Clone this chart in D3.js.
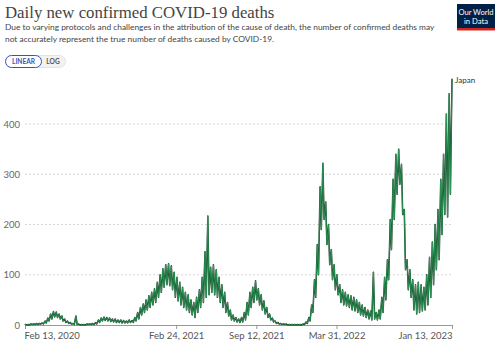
<!DOCTYPE html>
<html>
<head>
<meta charset="utf-8">
<script src="https://cdn.jsdelivr.net/npm/d3@7"></script>
<style>
  html, body { margin: 0; padding: 0; background: #fff; }
  svg { display: block; }
</style>
</head>
<body>
<svg id="chart" width="500" height="345"></svg>
<script>
// ---- Data ----
const seriesName = "Japan";
const startDate = "2020-02-13";
const endDate = "2023-01-13";
// Weekly reporting highs (one per week, starting Feb 13, 2020)
const weeklyPeak = [
  1,1,2,2,3,3,4,
  8,14,22,27,26,22,18,12,8,5,
  3,18,
  2,1,1,2,2,3,5,
  10,14,16,15,14,12,12,10,10,9,8,10,9,
  15,25,35,42,50,58,65,72,85,100,112,120,122,118,
  105,95,85,75,65,60,50,
  45,55,70,95,146,217,115,120,110,95,80,65,45,30,20,15,12,15,
  25,45,65,75,88,72,60,48,35,22,14,8,5,
  3,2,2,1,1,1,1,1,2,
  6,15,40,90,160,275,322,245,200,150,120,100,80,70,65,60,58,55,50,45,40,35,30,28,105,25,
  30,55,95,130,210,290,340,350,320,230,130,110,90,80,85,80,75,
  100,135,165,200,230,290,340,420,460,490
];
// Weekly reporting lows (mid-week)
const weeklyTrough = [
  0,0,1,1,1,2,2,
  4,8,12,16,15,12,8,5,3,2,
  1,1,
  0,0,0,1,1,1,2,
  5,8,9,8,7,6,5,5,4,4,4,5,5,
  8,12,20,25,30,35,40,45,55,65,75,80,78,70,
  55,48,40,35,30,25,20,
  15,25,35,45,55,60,65,60,55,45,35,25,18,10,8,6,5,6,
  10,20,35,45,50,40,30,22,15,10,6,3,2,
  1,1,0,0,0,0,0,0,1,
  3,8,25,55,100,190,210,160,120,90,70,60,45,40,38,35,30,28,25,20,18,15,12,10,12,10,
  12,25,50,90,150,210,260,280,220,110,70,55,30,22,25,28,30,
  40,55,80,110,130,180,220,215,260
];
const yTicks = [0, 100, 200, 300, 400];
const xTickLabels = ["2020-02-13", "2021-02-24", "2021-09-12", "2022-03-31", "2023-01-13"];

// ---- Build daily-dated points ----
const parse = d3.timeParse("%Y-%m-%d");
const t0 = parse(startDate), t1 = parse(endDate);
const points = [];
weeklyPeak.forEach((v, i) => {
  const dp = d3.timeDay.offset(t0, 7 * i + 1);
  if (dp <= t1) points.push({ date: dp, value: v });
  if (i < weeklyTrough.length) {
    const dt = d3.timeDay.offset(t0, 7 * i + 4);
    if (dt <= t1) points.push({ date: dt, value: weeklyTrough[i] });
  }
});
points.unshift({ date: t0, value: 0 });
points.sort((a, b) => a.date - b.date);

// ---- Layout ----
const svg = d3.select("#chart");
const plot = { left: 25, right: 452, top: 80, bottom: 325 };

const x = d3.scaleTime().domain([t0, t1]).range([plot.left, plot.right]);
const y = d3.scaleLinear().domain([0, 480]).range([plot.bottom, plot.bottom - 480 * 0.5025]);

// Title & subtitle
svg.append("text").attr("x", 5).attr("y", 18)
  .attr("font-family", "'Liberation Serif', 'DejaVu Serif', serif")
  .attr("font-size", 16.8).attr("fill", "#444")
  .text("Daily new confirmed COVID-19 deaths");
const sub = ["Due to varying protocols and challenges in the attribution of the cause of death, the number of confirmed deaths may",
             "not accurately represent the true number of deaths caused by COVID-19."];
sub.forEach((s, i) => {
  svg.append("text").attr("x", 5).attr("y", 30 + i * 11.5)
    .attr("font-family", "Lato, 'Open Sans', sans-serif")
    .attr("font-size", 8.4).attr("fill", "#444")
    .text(s);
});

// Logo
const logo = svg.append("g").attr("transform", "translate(457,4)");
logo.append("rect").attr("width", 38).attr("height", 26).attr("fill", "#002147");
logo.append("rect").attr("y", 24).attr("width", 38).attr("height", 2.5).attr("fill", "#ce261e");
["Our World", "in Data"].forEach((s, i) => {
  logo.append("text").attr("x", 19).attr("y", 11 + i * 9)
    .attr("text-anchor", "middle").attr("font-family", "Lato, sans-serif")
    .attr("font-size", 7.6).attr("fill", "#fff").text(s);
});

// LINEAR / LOG toggle
const tog = svg.append("g").attr("transform", "translate(5,55)");
tog.append("rect").attr("x", 0.5).attr("y", 0.5).attr("width", 60).attr("height", 12)
  .attr("rx", 6).attr("fill", "#f2f2f2").attr("stroke", "#ddd").attr("stroke-width", 0.8);
tog.append("rect").attr("x", 0.5).attr("y", 0.5).attr("width", 36).attr("height", 12)
  .attr("rx", 6).attr("fill", "#fff").attr("stroke", "#3f51b5").attr("stroke-width", 1);
tog.append("text").attr("x", 18.5).attr("y", 9.3).attr("text-anchor", "middle")
  .attr("font-family", "Lato, sans-serif").attr("font-weight", "bold")
  .attr("font-size", 6.6).attr("fill", "#3f51b5").text("LINEAR");
tog.append("text").attr("x", 48).attr("y", 9.3).attr("text-anchor", "middle")
  .attr("font-family", "Lato, sans-serif").attr("font-weight", "bold")
  .attr("font-size", 6.6).attr("fill", "#555").text("LOG");

// Gridlines + y labels
const yAxis = d3.axisLeft(y).tickValues(yTicks).tickSize(0).tickPadding(5);
const gy = svg.append("g").attr("transform", `translate(${plot.left - 0},0)`).call(yAxis);
gy.select(".domain").remove();
gy.selectAll("text").attr("font-family", "Lato, sans-serif").attr("font-size", 9.5)
  .attr("fill", "#666").attr("x", -5);
svg.append("g").selectAll("line").data(yTicks.filter(d => d > 0)).join("line")
  .attr("x1", plot.left).attr("x2", plot.right)
  .attr("y1", d => y(d)).attr("y2", d => y(d))
  .attr("stroke", "#ccc").attr("stroke-width", 0.8).attr("stroke-dasharray", "2,2");

// X axis
const xTickDates = xTickLabels.map(parse);
const xAxis = d3.axisBottom(x).tickValues(xTickDates).tickSize(4).tickPadding(3)
  .tickFormat(d3.timeFormat("%b %-d, %Y"));
const gx = svg.append("g").attr("transform", `translate(0,${plot.bottom})`).call(xAxis);
gx.select(".domain").attr("stroke", "#999").attr("stroke-width", 1.2)
  .attr("d", `M${plot.left},0.5H${plot.right}`);
gx.selectAll(".tick line").attr("stroke", "#999");
gx.selectAll("text").attr("font-family", "Lato, sans-serif").attr("font-size", 9.5).attr("fill", "#555")
  .attr("text-anchor", (d, i) => i === 0 ? "start" : (i === xTickDates.length - 1 ? "end" : "middle"))
  .attr("dx", (d, i) => i === 0 ? -1 : 0);

// Line
const line = d3.line().x(d => x(d.date)).y(d => y(d.value));
svg.append("path").datum(points).attr("d", line).attr("fill", "none")
  .attr("stroke", "#153a22").attr("stroke-width", 1.5).attr("stroke-linejoin", "round");
svg.append("path").datum(points).attr("d", line).attr("fill", "none")
  .attr("stroke", "#2f9e5c").attr("stroke-width", 0.8).attr("stroke-linejoin", "round");

// Series label
const last = points[points.length - 1];
svg.append("text").attr("x", x(last.date) + 3).attr("y", y(last.value) + 4)
  .attr("font-family", "Lato, sans-serif").attr("font-size", 8).attr("fill", "#333")
  .text(seriesName);
</script>
</body>
</html>
